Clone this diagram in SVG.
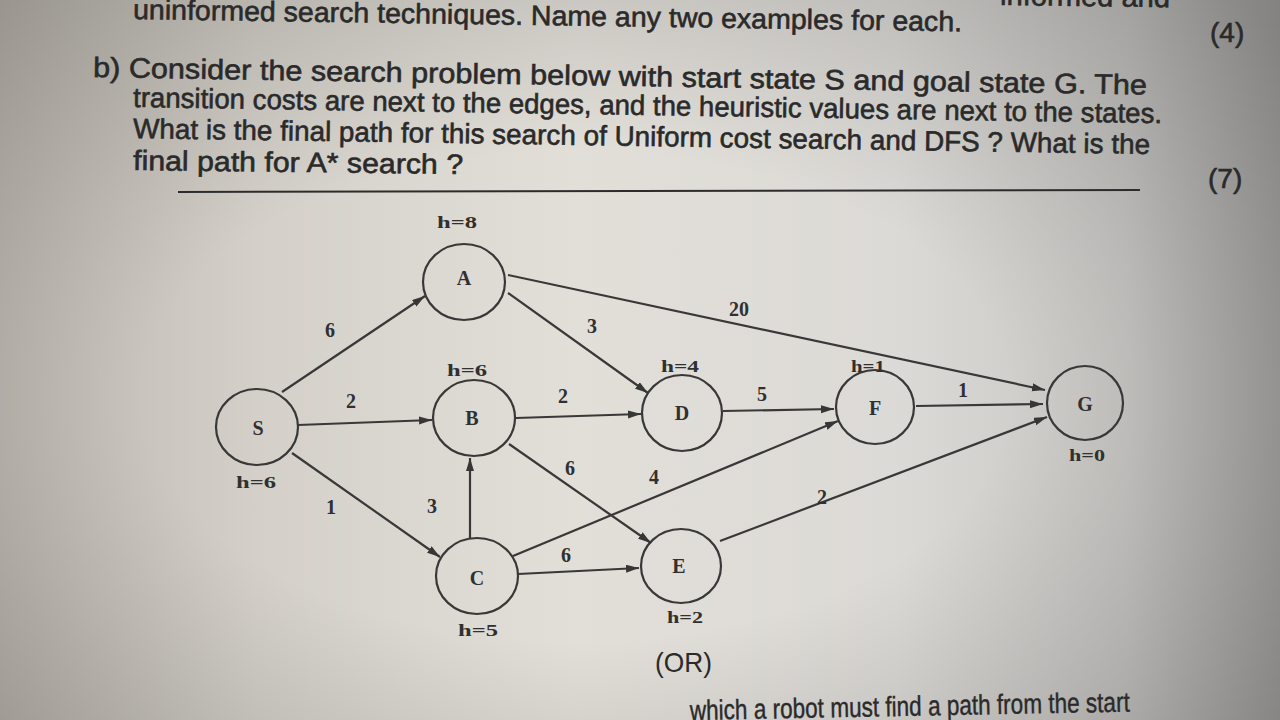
<svg xmlns="http://www.w3.org/2000/svg" width="1280" height="720" viewBox="0 0 1280 720">
  <defs>
    <linearGradient id="paper" x1="0" y1="0" x2="1" y2="0">
      <stop offset="0" stop-color="#bbb6ae"/>
      <stop offset="0.2" stop-color="#d4d0c9"/>
      <stop offset="0.45" stop-color="#e2dfd9"/>
      <stop offset="0.7" stop-color="#dcdad6"/>
      <stop offset="0.88" stop-color="#c6c5c2"/>
      <stop offset="1" stop-color="#a4a3a2"/>
    </linearGradient>
    <radialGradient id="shade" cx="0.45" cy="0.55" r="0.75">
      <stop offset="0.45" stop-color="#000" stop-opacity="0"/>
      <stop offset="1" stop-color="#000" stop-opacity="0.2"/>
    </radialGradient>
    <marker id="arrow" markerUnits="userSpaceOnUse" markerWidth="14" markerHeight="10" refX="13" refY="4" orient="auto">
      <path d="M0,0 L13,4 L0,8 z" fill="#363636"/>
    </marker>
    <style>
      .para { font-family: "Liberation Sans", Arial, sans-serif; font-size: 28px; fill: #2a2a2a; stroke: #2a2a2a; stroke-width: 0.6; }
      .node { fill: none; stroke: #383838; stroke-width: 2.2; }
      .edge { stroke: #383838; stroke-width: 2.2; fill: none; marker-end: url(#arrow); }
      .lbl { font-family: "Liberation Serif", "Times New Roman", serif; font-weight: bold; font-size: 20px; fill: #303030; text-anchor: middle; dominant-baseline: central; }
      .h { font-family: "Liberation Serif", "Times New Roman", serif; font-weight: bold; font-size: 17px; fill: #303030; text-anchor: middle; dominant-baseline: central; }
    </style>
  </defs>

  <!-- paper -->
  <rect x="0" y="0" width="1280" height="720" fill="url(#paper)"/>
  <rect x="0" y="0" width="1280" height="720" fill="url(#shade)"/>

  <!-- question text -->
  <g id="question">
    <text class="para" x="1000" y="5" textLength="170" lengthAdjust="spacingAndGlyphs" transform="rotate(0.7 1000 5)">informed and</text>
    <text class="para" x="133" y="19" textLength="829" lengthAdjust="spacingAndGlyphs" transform="rotate(0.85 133 19)">uninformed search techniques.  Name any two examples for each.</text>
    <text class="para" x="1210" y="42">(4)</text>
    <text class="para" x="93" y="77" textLength="1054" lengthAdjust="spacingAndGlyphs" transform="rotate(0.95 93 77)">b) Consider the search problem below with start state S and goal state G. The</text>
    <text class="para" x="133" y="107" textLength="1029" lengthAdjust="spacingAndGlyphs" transform="rotate(0.9 133 107)">transition costs are next to the edges, and the heuristic values are next to the states.</text>
    <text class="para" x="133" y="138" textLength="1017" lengthAdjust="spacingAndGlyphs" transform="rotate(0.9 133 138)">What is the final path for this search of Uniform cost search and DFS ? What is the</text>
    <text class="para" x="133" y="170" textLength="330" lengthAdjust="spacingAndGlyphs" transform="rotate(0.7 133 170)">final path for A* search ?</text>
    <text class="para" x="1208" y="188">(7)</text>
    <path d="M178,192 L1140,190" stroke="#2c2c2c" stroke-width="2" fill="none"/>
    <text class="para" x="655" y="672" textLength="57" lengthAdjust="spacingAndGlyphs" style="stroke-width:0">(OR)</text>
    <text class="para" x="690" y="720" textLength="440" lengthAdjust="spacingAndGlyphs" transform="rotate(-1.1 690 720)" style="stroke-width:0.4">which a robot must find a path from the start</text>
  </g>

  <!-- connectors -->
  <g id="connectors">
    <line class="edge" x1="282" y1="392" x2="425" y2="296"/>
    <text class="lbl" x="330" y="330">6</text>
    <line class="edge" x1="298" y1="425" x2="432" y2="420"/>
    <text class="lbl" x="351" y="401">2</text>
    <line class="edge" x1="292" y1="453" x2="440" y2="557"/>
    <text class="lbl" x="331" y="507">1</text>
    <line class="edge" x1="508" y1="293" x2="648" y2="393"/>
    <text class="lbl" x="592" y="326">3</text>
    <line class="edge" x1="508" y1="275" x2="1045" y2="390"/>
    <text class="lbl" x="739" y="309">20</text>
    <line class="edge" x1="516" y1="418" x2="641" y2="414"/>
    <text class="lbl" x="563" y="396">2</text>
    <line class="edge" x1="509" y1="444" x2="651" y2="543"/>
    <text class="lbl" x="570" y="468">6</text>
    <line class="edge" x1="470" y1="538" x2="470" y2="458"/>
    <text class="lbl" x="432" y="506">3</text>
    <line class="edge" x1="513" y1="556" x2="838" y2="421"/>
    <text class="lbl" x="654" y="477">4</text>
    <line class="edge" x1="518" y1="574" x2="639" y2="568"/>
    <text class="lbl" x="566" y="555">6</text>
    <line class="edge" x1="723" y1="411" x2="834" y2="409"/>
    <text class="lbl" x="762" y="394">5</text>
    <line class="edge" x1="916" y1="406" x2="1043" y2="404"/>
    <text class="lbl" x="963" y="390">1</text>
    <line class="edge" x1="720" y1="541" x2="1047" y2="417"/>
    <text class="lbl" x="822" y="497">2</text>
  </g>

  <!-- states -->
  <g id="node-S">
    <ellipse class="node" cx="257" cy="427" rx="41" ry="38"/>
    <text class="lbl" x="258" y="428">S</text>
    <text class="h" x="256" y="482" textLength="40" lengthAdjust="spacingAndGlyphs">h=6</text>
  </g>
  <g id="node-A">
    <ellipse class="node" cx="464" cy="282" rx="41" ry="38"/>
    <text class="lbl" x="464" y="278">A</text>
    <text class="h" x="457" y="222" textLength="40" lengthAdjust="spacingAndGlyphs">h=8</text>
  </g>
  <g id="node-B">
    <ellipse class="node" cx="474" cy="418" rx="41" ry="38"/>
    <text class="lbl" x="472" y="418">B</text>
    <text class="h" x="467" y="370" textLength="40" lengthAdjust="spacingAndGlyphs">h=6</text>
  </g>
  <g id="node-C">
    <ellipse class="node" cx="477" cy="576" rx="41" ry="38"/>
    <text class="lbl" x="477" y="578">C</text>
    <text class="h" x="478" y="630" textLength="40" lengthAdjust="spacingAndGlyphs">h=5</text>
  </g>
  <g id="node-D">
    <ellipse class="node" cx="682" cy="413" rx="40" ry="38"/>
    <text class="lbl" x="682" y="413">D</text>
    <text class="h" x="680" y="366" textLength="38" lengthAdjust="spacingAndGlyphs">h=4</text>
  </g>
  <g id="node-E">
    <ellipse class="node" cx="681" cy="566" rx="40" ry="37"/>
    <text class="lbl" x="679" y="566">E</text>
    <text class="h" x="685" y="617" textLength="36" lengthAdjust="spacingAndGlyphs">h=2</text>
  </g>
  <g id="node-F">
    <ellipse class="node" cx="875" cy="407" rx="39" ry="37"/>
    <text class="lbl" x="875" y="408">F</text>
    <text class="h" x="868" y="366" textLength="34" lengthAdjust="spacingAndGlyphs">h=1</text>
  </g>
  <g id="node-G">
    <ellipse class="node" cx="1085" cy="403" rx="38" ry="37"/>
    <text class="lbl" x="1085" y="404">G</text>
    <text class="h" x="1087" y="455" textLength="36" lengthAdjust="spacingAndGlyphs">h=0</text>
  </g>
</svg>
